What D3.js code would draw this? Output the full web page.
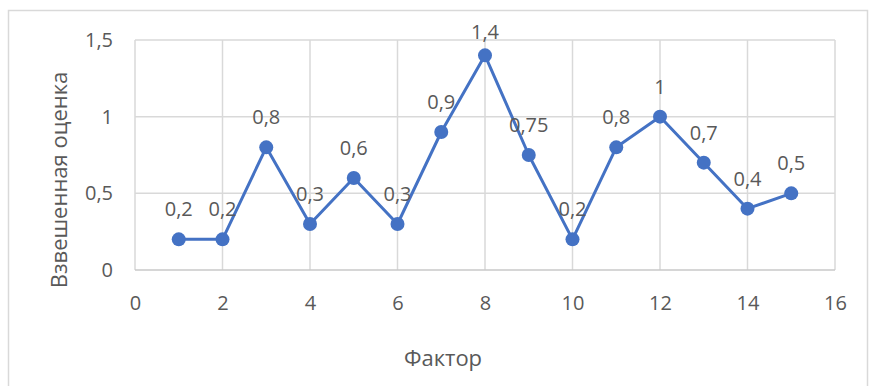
<!DOCTYPE html>
<html>
<head>
<meta charset="utf-8">
<script src="https://cdn.jsdelivr.net/npm/d3@7"></script>
<style>
  html, body { margin: 0; padding: 0; background: #fff; }
  svg text { font-family: "Open Sans", "Liberation Sans", sans-serif; fill: #595959; }
</style>
</head>
<body>
<svg id="chart" width="871" height="386"></svg>
<script>
// Weighted score per factor
const factors = [1, 2, 3, 4, 5, 6, 7, 8, 9, 10, 11, 12, 13, 14, 15];
const scores = [0.2, 0.2, 0.8, 0.3, 0.6, 0.3, 0.9, 1.4, 0.75, 0.2, 0.8, 1, 0.7, 0.4, 0.5];
const xTicks = [0, 2, 4, 6, 8, 10, 12, 14, 16];
const yTicks = [0, 0.5, 1, 1.5];
const xTitle = "Фактор";
const yTitle = "Взвешенная оценка";

const svg = d3.select("#chart");
const fmt = v => String(v).replace(".", ",");
const FONT = "'Open Sans', 'Liberation Sans', sans-serif";

// chart area frame
svg.append("rect")
  .attr("x", 8.5).attr("y", 10.5)
  .attr("width", 859).attr("height", 390)
  .attr("fill", "#fff").attr("stroke", "#d9d9d9").attr("stroke-width", 1.5);

const x = d3.scaleLinear().domain([0, 16]).range([135, 835]);
const y = d3.scaleLinear().domain([0, 1.5]).range([270, 40]);

// gridlines
svg.append("g").selectAll("line").data(xTicks).join("line")
  .attr("x1", d => x(d)).attr("x2", d => x(d))
  .attr("y1", y(1.5)).attr("y2", y(0))
  .attr("stroke", "#d9d9d9").attr("stroke-width", 1.5);
svg.append("g").selectAll("line").data(yTicks).join("line")
  .attr("x1", x(0)).attr("x2", x(16))
  .attr("y1", d => y(d)).attr("y2", d => y(d))
  .attr("stroke", d => d === 0 ? "#c8c8c8" : "#d9d9d9").attr("stroke-width", 1.5);

// axes (labels only)
const xAxis = svg.append("g").attr("transform", `translate(0,${y(0)})`)
  .call(d3.axisBottom(x).tickValues(xTicks).tickSize(0).tickPadding(26).tickFormat(fmt));
const yAxis = svg.append("g").attr("transform", `translate(${x(0)},0)`)
  .call(d3.axisLeft(y).tickValues(yTicks).tickSize(0).tickPadding(22).tickFormat(fmt));
[xAxis, yAxis].forEach(a => {
  a.select(".domain").remove();
  a.selectAll("text").attr("font-size", 20).attr("fill", "#595959").attr("font-family", FONT);
});

// axis titles
svg.append("text").attr("x", 443).attr("y", 357)
  .attr("dominant-baseline", "central")
  .attr("text-anchor", "middle").attr("font-size", 22).text(xTitle);
svg.append("text").attr("transform", "translate(58,180) rotate(-90)")
  .attr("dominant-baseline", "central")
  .attr("text-anchor", "middle").attr("font-size", 22).text(yTitle);

const pts = factors.map((f, i) => ({ f, v: scores[i] }));

// series line
svg.append("path").datum(pts)
  .attr("fill", "none").attr("stroke", "#4472c4").attr("stroke-width", 3)
  .attr("stroke-linejoin", "round")
  .attr("d", d3.line().x(d => x(d.f)).y(d => y(d.v)));

// markers
svg.append("g").selectAll("circle").data(pts).join("circle")
  .attr("cx", d => x(d.f)).attr("cy", d => y(d.v)).attr("r", 7)
  .attr("fill", "#4472c4");

// data labels above each point, kept inside the chart area at the top
svg.append("g").selectAll("text").data(pts).join("text")
  .attr("x", d => x(d.f)).attr("y", d => Math.max(y(d.v) - 23, 39))
  .attr("text-anchor", "middle").attr("font-size", 20)
  .text(d => fmt(d.v));
</script>
</body>
</html>
